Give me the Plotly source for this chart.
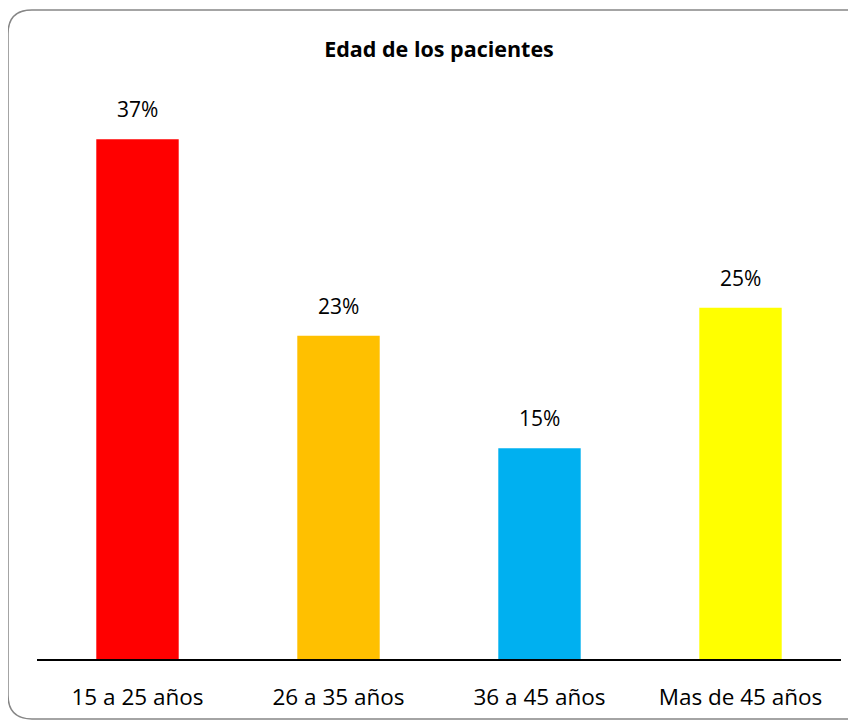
import plotly.graph_objects as go

categories = ["15 a 25 años", "26 a 35 años", "36 a 45 años", "Mas de 45 años"]
values = [37, 23, 15, 25]
labels = ["37%", "23%", "15%", "25%"]
colors = ["#FF0000", "#FFC000", "#00B0F0", "#FFFF00"]

FONT = "Open Sans, Noto Sans, sans-serif"
# the page adds an 8px body margin, so the figure itself is 8px smaller
W, H = 848, 713
OFF = 8
ML, MR, MT, MB = 37 - OFF, 15, 97 - OFF, 62
pw, ph = W - ML - MR, H - MT - MB

def px(x):
    return (x - OFF - ML) / pw

def py(y):
    return (H - MB - (y - OFF)) / ph

fig = go.Figure(go.Bar(x=categories, y=values, marker=dict(color=colors, line=dict(width=0)),
                       hoverinfo="skip"))

for c, v, t in zip(categories, values, labels):
    fig.add_annotation(x=c, y=v, text=t, showarrow=False, yanchor="bottom", yshift=14,
                       font=dict(family=FONT, size=21, color="#000"))

# rounded border
L, T, R, B, r = 8, 10, 870, 719, 24
path = (f"M {px(L)} {py(T + r)} Q {px(L)} {py(T)} {px(L + r)} {py(T)} "
        f"L {px(R - r)} {py(T)} Q {px(R)} {py(T)} {px(R)} {py(T + r)} "
        f"L {px(R)} {py(B - r)} Q {px(R)} {py(B)} {px(R - r)} {py(B)} "
        f"L {px(L + r)} {py(B)} Q {px(L)} {py(B)} {px(L)} {py(B - r)} Z")
fig.add_shape(type="path", path=path, xref="paper", yref="paper",
              line=dict(color="#868686", width=1.5), layer="below")

fig.update_layout(
    width=W, height=H,
    margin=dict(l=ML, r=MR, t=MT, b=MB, autoexpand=False),
    paper_bgcolor="white", plot_bgcolor="white",
    bargap=0.59,
    showlegend=False,
    title=dict(text="<b>Edad de los pacientes</b>", x=0.5, xref="paper", y=1 - (49 - OFF) / H,
               yanchor="middle",
               font=dict(family=FONT, size=21.5, color="#000")),
    xaxis=dict(showline=True, linecolor="#000", linewidth=2, ticks="", showgrid=False,
               ticklabelstandoff=17,
               tickfont=dict(family=FONT, size=22.5, color="#000")),
    yaxis=dict(range=[0, 40], visible=False, showgrid=False, zeroline=False),
)

fig.write_html("out.html")
